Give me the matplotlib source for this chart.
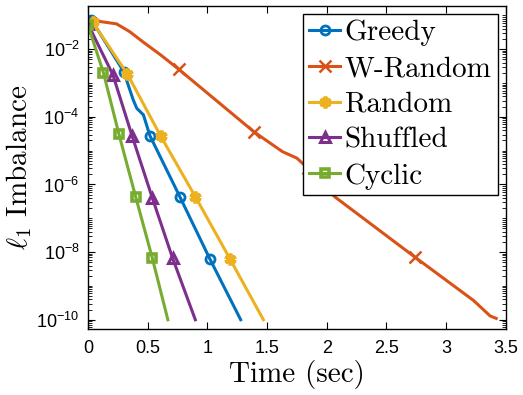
import numpy as np
import matplotlib.pyplot as plt
from matplotlib.ticker import LogLocator, FixedLocator, FuncFormatter, NullFormatter

plt.rcParams['font.family'] = 'Liberation Sans'
plt.rcParams['mathtext.fontset'] = 'custom'
plt.rcParams['mathtext.rm'] = 'Liberation Sans'
plt.rcParams['mathtext.it'] = 'Liberation Sans:italic'

# data (time in sec, log10 of l1 imbalance)
greedy_t = [0.03, 0.30, 0.38, 0.41, 0.465, 0.52, 0.77, 1.02, 1.28]
greedy_y = [-1.13, -2.66, -3.50, -3.75, -3.94, -4.56, -6.36, -8.19, -10.0]
greedy_mk = [0, 1, 5, 6, 7]

wrand_t = [0.06, 0.10, 0.24, 0.35, 0.46, 0.61, 0.76, 1.39, 1.63, 1.75, 1.84, 2.07, 2.74, 3.23, 3.37, 3.42]
wrand_y = [-1.08, -1.18, -1.25, -1.48, -1.78, -2.17, -2.59, -4.44, -5.03, -5.22, -5.51, -6.37, -8.15, -9.43, -9.89, -9.96]
wrand_mk = [6, 7, 10, 12]

rand_t = [0.04, 0.33, 0.61, 0.90, 1.19, 1.47]
rand_y = [-1.20, -2.73, -4.57, -6.36, -8.20, -10.0]

shuf_t = [0.0, 0.21, 0.37, 0.54, 0.71, 0.90]
shuf_y = [-1.25, -2.76, -4.56, -6.40, -8.18, -10.0]

cyc_t = [0.0, 0.13, 0.26, 0.40, 0.54, 0.67]
cyc_y = [-1.28, -2.69, -4.51, -6.36, -8.18, -10.0]

ytick_exp = [-10, -8, -6, -4, -2]

fig = plt.figure(figsize=(5.23, 3.95), dpi=100)
ax = fig.add_axes([0.168, 0.167, 0.799, 0.818])

lw = 2.2
ax.plot(greedy_t, 10.0**np.array(greedy_y), '-o', color='#0072BD', lw=lw, ms=6.5,
        mew=2, mfc='none', markevery=greedy_mk, label='Greedy')
ax.plot(wrand_t, 10.0**np.array(wrand_y), '-x', color='#D95319', lw=lw, ms=8,
        mew=1.8, markevery=wrand_mk, label='W-Random')
ax.plot(rand_t, 10.0**np.array(rand_y), '-', marker=(6, 2, 0), color='#EDB120', lw=lw,
        ms=8.5, mew=2.8, markevery=list(range(5)), label='Random')
ax.plot(shuf_t, 10.0**np.array(shuf_y), '-^', color='#7E2F8E', lw=lw, ms=7,
        mew=2.2, mfc='none', markevery=list(range(5)), label='Shuffled')
ax.plot(cyc_t, 10.0**np.array(cyc_y), '-s', color='#77AC30', lw=lw, ms=5.8,
        mew=2.6, mfc='none', markevery=list(range(5)), label='Cyclic')

ax.set_yscale('log')
ax.set_xlim(0, 3.5)
ax.set_ylim(10**-10.275, 10**-0.72)
ax.set_xticks(np.arange(0, 3.51, 0.5))
ax.xaxis.set_major_formatter(FuncFormatter(lambda v, p: '%g' % v))
ax.yaxis.set_major_locator(FixedLocator([10.0**e for e in ytick_exp]))
ax.yaxis.set_minor_locator(LogLocator(base=10, subs=np.arange(1, 10), numticks=50))
ax.yaxis.set_minor_formatter(NullFormatter())
ax.yaxis.set_major_formatter(FuncFormatter(lambda v, p: r'10$^{%d}$' % round(np.log10(v))))
ax.tick_params(which='both', direction='in', top=True, right=True, labelsize=13)
ax.tick_params(axis='x', pad=8)
ax.tick_params(axis='y', pad=6)
ax.tick_params(which='major', length=5)
ax.tick_params(which='minor', length=3)
for s in ax.spines.values():
    s.set_linewidth(1.0)

ax.set_xlabel('Time (sec)', fontfamily='cmr10', fontsize=21, labelpad=2)
ax.set_ylabel(r'$\ell_1$ Imbalance', fontfamily='cmr10', fontsize=21,
              math_fontfamily='cm', labelpad=2)

leg = ax.legend(loc='upper right', prop={'family': 'cmr10', 'size': 21},
                frameon=True, fancybox=False, edgecolor='black', framealpha=1,
                handlelength=1.05, handletextpad=0.17, borderpad=0.2,
                labelspacing=0.32, borderaxespad=0.28)
leg.get_frame().set_linewidth(1.0)

fig.savefig('out.png', dpi=100)
